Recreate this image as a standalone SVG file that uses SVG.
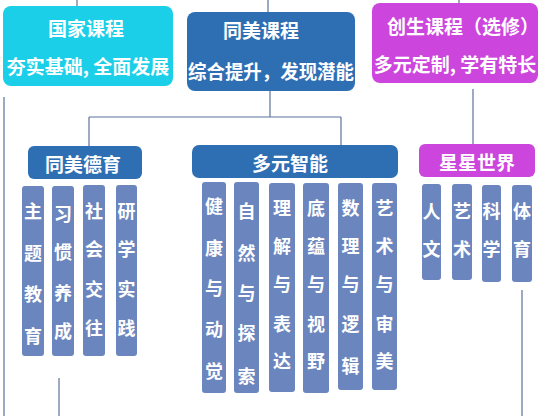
<svg xmlns="http://www.w3.org/2000/svg" width="551" height="416" viewBox="0 0 551 416">
<style>
text{font-family:"Noto Sans CJK SC","Noto Sans",sans-serif;font-weight:bold;fill:#fff;text-anchor:middle;dominant-baseline:central}
.h{font-size:19px}
.c{font-size:18px}
.col{fill:#6B86BE}
.blue{fill:#2E6FB4}
.mag{fill:#CC45DC}
.cy{fill:#1CCFE8}
line{stroke:#5A7299;stroke-width:1.2}
</style>
<rect width="551" height="416" fill="#fff"/>
<g id="connectors">
<line x1="77" y1="0" x2="77" y2="6"/>
<line x1="268" y1="0" x2="268" y2="12"/>
<line x1="459" y1="0" x2="459" y2="3"/>
<line x1="270" y1="91" x2="270" y2="117"/>
<line x1="89" y1="117" x2="341" y2="117"/>
<line x1="89" y1="117" x2="89" y2="146"/>
<line x1="341" y1="117" x2="341" y2="145"/>
<line x1="473" y1="89" x2="473" y2="144"/>
<line x1="4" y1="97" x2="4" y2="416"/>
<line x1="59" y1="378" x2="59" y2="416"/>
<line x1="522" y1="290" x2="522" y2="416"/>
</g>
<g id="guojia">
<rect class="cy" x="3" y="6" width="170" height="80" rx="8"/>
<text class="h" x="86" y="27">国家课程</text>
<text class="h" x="88" y="65">夯实基础, 全面发展</text>
</g>
<g id="tongmei">
<rect class="blue" x="187" y="12" width="168" height="79" rx="8"/>
<text class="h" x="261" y="29">同美课程</text>
<text class="h" x="271" y="70" textLength="166" lengthAdjust="spacingAndGlyphs">综合提升，发现潜能</text>
</g>
<g id="chuangsheng">
<rect class="mag" x="372" y="3" width="166" height="80" rx="8"/>
<text class="h" x="463" y="25">创生课程（选修）</text>
<text class="h" x="455" y="63">多元定制, 学有特长</text>
</g>
<g id="deyu">
<rect class="blue" x="28" y="146" width="114" height="33" rx="6"/>
<text class="h" x="83" y="163">同美德育</text>
</g>
<g id="deyu-cols">
<rect class="col" x="22" y="186" width="22" height="170" rx="3"/>
<text class="c" x="33" y="210">主</text><text class="c" x="33" y="252">题</text><text class="c" x="33" y="293">教</text><text class="c" x="33" y="335">育</text>
<rect class="col" x="52" y="186" width="22" height="170" rx="3"/>
<text class="c" x="63" y="213">习</text><text class="c" x="63" y="251">惯</text><text class="c" x="63" y="292">养</text><text class="c" x="63" y="330">成</text>
<rect class="col" x="83" y="185" width="22" height="171" rx="3"/>
<text class="c" x="94" y="210">社</text><text class="c" x="94" y="248">会</text><text class="c" x="94" y="288">交</text><text class="c" x="94" y="327">往</text>
<rect class="col" x="116" y="185" width="21" height="171" rx="3"/>
<text class="c" x="126.5" y="210">研</text><text class="c" x="126.5" y="248">学</text><text class="c" x="126.5" y="288">实</text><text class="c" x="126.5" y="327">践</text>
</g>
<g id="duoyuan">
<rect class="blue" x="192" y="145" width="206" height="33" rx="7"/>
<text class="h" x="290" y="162">多元智能</text>
</g>
<g id="duoyuan-cols">
<rect class="col" x="202" y="182" width="24" height="211" rx="3"/>
<text class="c" x="214" y="205">健</text><text class="c" x="214" y="247">康</text><text class="c" x="214" y="287">与</text><text class="c" x="214" y="328">动</text><text class="c" x="214" y="370">觉</text>
<rect class="col" x="234" y="182" width="25" height="211" rx="3"/>
<text class="c" x="246.5" y="210">自</text><text class="c" x="246.5" y="252">然</text><text class="c" x="246.5" y="292">与</text><text class="c" x="246.5" y="332">探</text><text class="c" x="246.5" y="375">索</text>
<rect class="col" x="269" y="183" width="26" height="209" rx="3"/>
<text class="c" x="282" y="207">理</text><text class="c" x="282" y="245">解</text><text class="c" x="282" y="283">与</text><text class="c" x="282" y="323">表</text><text class="c" x="282" y="360">达</text>
<rect class="col" x="303" y="183" width="26" height="210" rx="3"/>
<text class="c" x="316" y="207">底</text><text class="c" x="316" y="245">蕴</text><text class="c" x="316" y="283">与</text><text class="c" x="316" y="323">视</text><text class="c" x="316" y="360">野</text>
<rect class="col" x="338" y="183" width="25" height="207" rx="3"/>
<text class="c" x="350.5" y="207">数</text><text class="c" x="350.5" y="245">理</text><text class="c" x="350.5" y="283">与</text><text class="c" x="350.5" y="323">逻</text><text class="c" x="350.5" y="365">辑</text>
<rect class="col" x="372" y="183" width="25" height="207" rx="3"/>
<text class="c" x="384.5" y="207">艺</text><text class="c" x="384.5" y="245">术</text><text class="c" x="384.5" y="283">与</text><text class="c" x="384.5" y="323">审</text><text class="c" x="384.5" y="360">美</text>
</g>
<g id="xingxing">
<rect class="mag" x="419" y="144" width="116" height="33" rx="6"/>
<text class="h" x="477" y="161">星星世界</text>
</g>
<g id="xingxing-cols">
<rect class="col" x="422" y="184" width="19" height="96" rx="3"/>
<text class="c" x="431.5" y="210">人</text><text class="c" x="431.5" y="248">文</text>
<rect class="col" x="452" y="184" width="20" height="96" rx="3"/>
<text class="c" x="462" y="210">艺</text><text class="c" x="462" y="248">术</text>
<rect class="col" x="482" y="185" width="19" height="97" rx="3"/>
<text class="c" x="491.5" y="210">科</text><text class="c" x="491.5" y="248">学</text>
<rect class="col" x="512" y="185" width="20" height="97" rx="3"/>
<text class="c" x="522" y="210">体</text><text class="c" x="522" y="248">育</text>
</g>
</svg>
